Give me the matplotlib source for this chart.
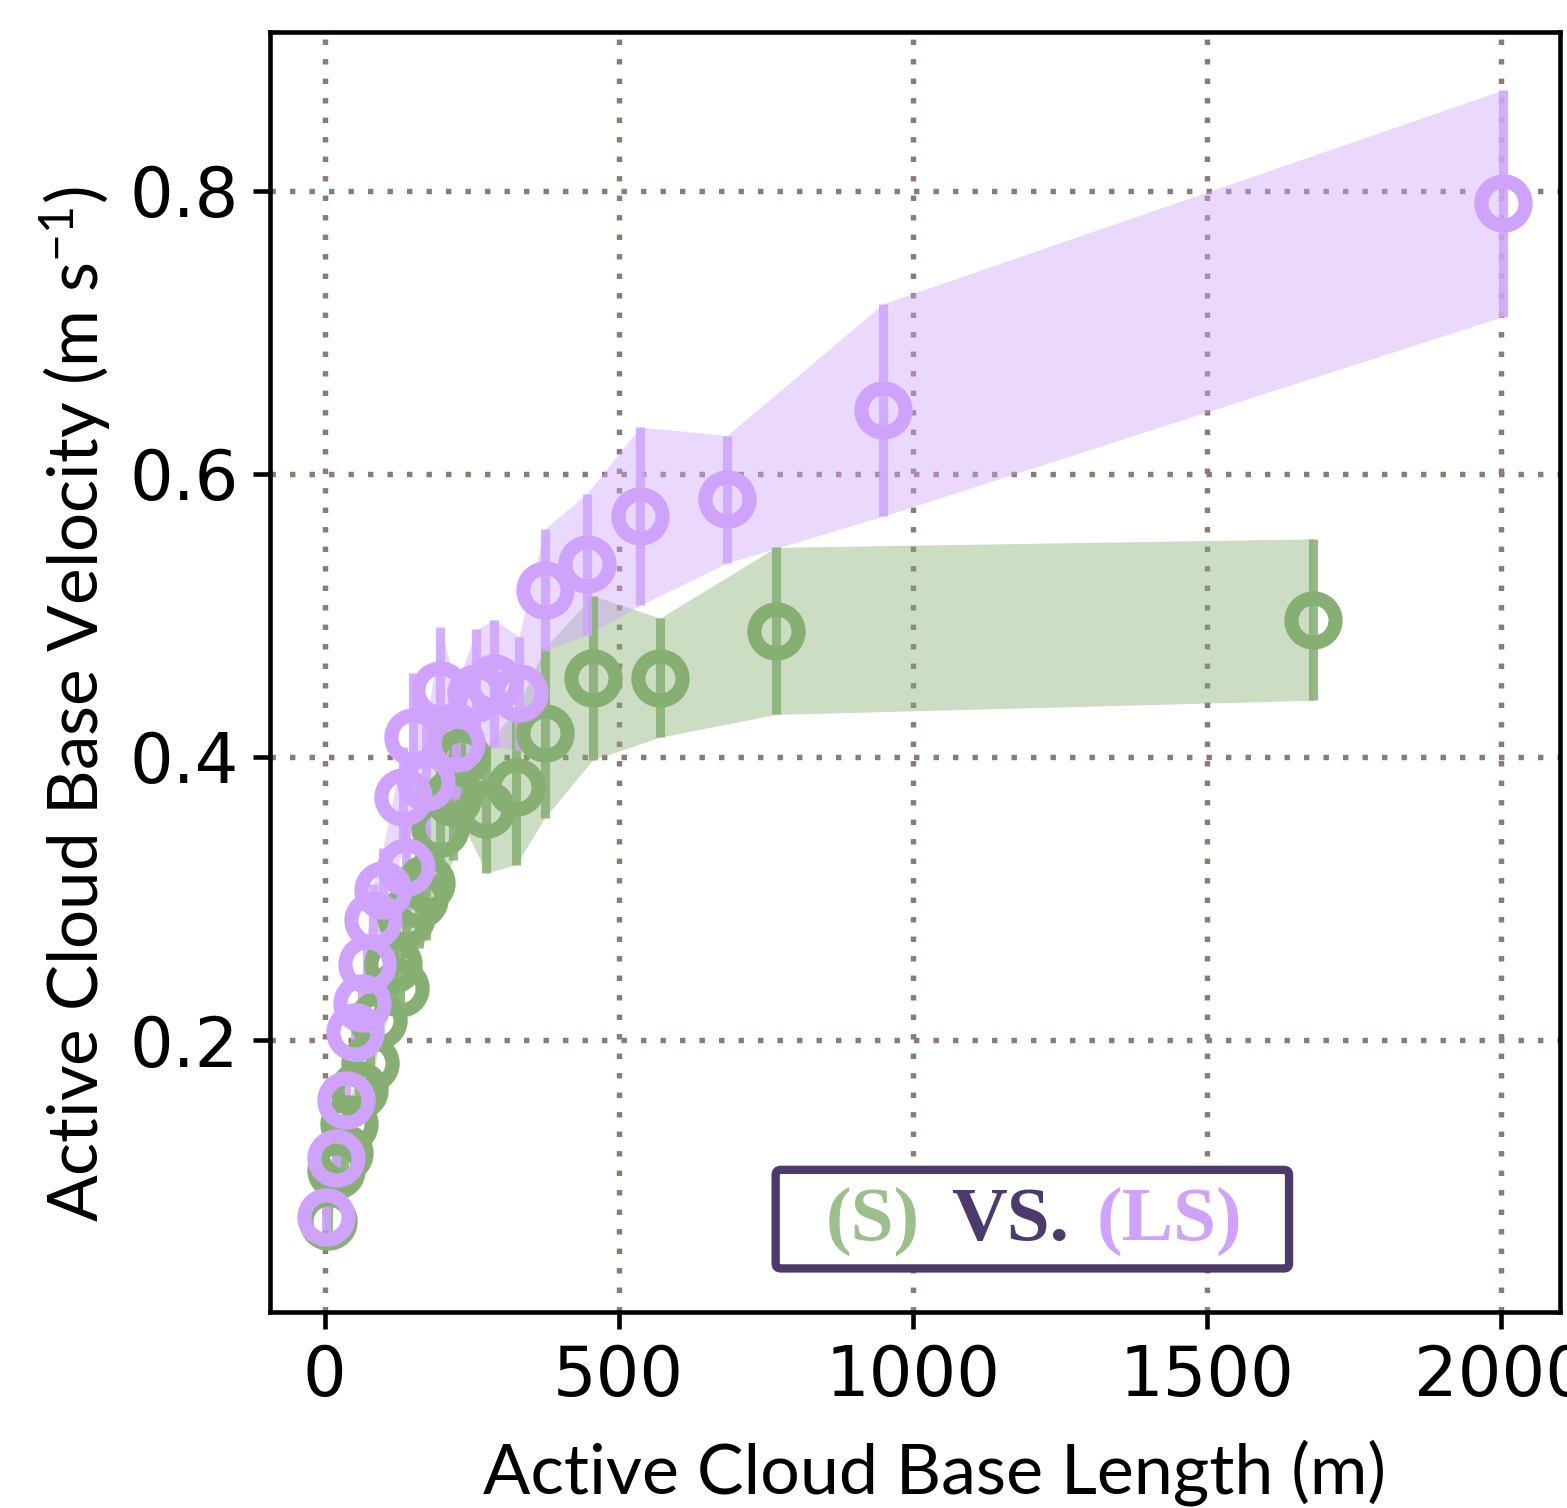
import matplotlib
matplotlib.use("Agg")
import matplotlib.pyplot as plt
from matplotlib.patches import FancyBboxPatch

# binned cloud-base statistics: (S) run in green, (LS) run in purple
s_length = [5, 20, 32, 42, 58, 77, 90, 116, 128, 139, 160, 173, 196, 218, 232,
            275, 326, 374, 456, 570, 767, 1680]
s_vel = [0.072, 0.108, 0.120, 0.141, 0.165, 0.184, 0.214, 0.254, 0.237, 0.287,
         0.300, 0.311, 0.350, 0.372, 0.400, 0.363, 0.379, 0.417, 0.456, 0.456,
         0.489, 0.497]
s_err = [0.012, 0.012, 0.013, 0.015, 0.017, 0.020, 0.022, 0.025, 0.028, 0.030,
         0.035, 0.040, 0.040, 0.045, 0.045, 0.045, 0.055, 0.060, 0.058, 0.042,
         0.059, 0.057]

ls_length = [3, 20, 37, 51, 63, 72, 82, 99, 133, 139, 150, 173, 196, 224, 258,
             288, 330, 374, 446, 536, 684, 949, 2003]
ls_vel = [0.075, 0.117, 0.158, 0.206, 0.226, 0.254, 0.285, 0.306, 0.372, 0.322,
          0.414, 0.382, 0.447, 0.410, 0.445, 0.452, 0.445, 0.518, 0.536, 0.570,
          0.582, 0.645, 0.791]
ls_err = [0.010, 0.012, 0.013, 0.015, 0.017, 0.020, 0.025, 0.030, 0.035, 0.030,
          0.045, 0.040, 0.045, 0.040, 0.045, 0.045, 0.040, 0.043, 0.050, 0.063,
          0.045, 0.075, 0.080]

GREEN = "#87AE73"
PURPLE = "#CFA3FC"
DARK = "#4B3A6B"

plt.rcParams["font.family"] = ["Lato", "DejaVu Sans"]
plt.rcParams["mathtext.fontset"] = "custom"
plt.rcParams["mathtext.rm"] = "Lato"
plt.rcParams["mathtext.default"] = "rm"

fig = plt.figure(figsize=(15.67 / 3, 15.08 / 3), dpi=300)
ax = fig.add_axes([0.1723, 0.130, 0.8232, 0.8488])


def draw(x, y, e, color):
    lo = [a - b for a, b in zip(y, e)]
    hi = [a + b for a, b in zip(y, e)]
    ax.fill_between(x, lo, hi, color=color, alpha=0.42, lw=0, zorder=2)
    ax.errorbar(x, y, yerr=e, fmt="none", ecolor=color, elinewidth=2.2,
                alpha=0.85, capsize=0, zorder=3)
    ax.plot(x, y, "o", ms=10.6, mfc="none", mec=color, mew=3.4, zorder=4)


draw(s_length, s_vel, s_err, GREEN)
draw(ls_length, ls_vel, ls_err, PURPLE)

ax.set_xlim(-93, 2100)
ax.set_ylim(0.008, 0.912)
ax.set_xticks([0, 500, 1000, 1500, 2000])
ax.set_yticks([0.2, 0.4, 0.6, 0.8])
ax.grid(True, ls=(0, (1, 2.6)), color="#8C7B75", lw=1.3, zorder=1)
ax.set_axisbelow(True)
for sp in ax.spines.values():
    sp.set_linewidth(1.1)
ax.tick_params(labelsize=16.5, length=4, width=1.1)
for lab in ax.get_xticklabels() + ax.get_yticklabels():
    lab.set_family("DejaVu Sans")

ax.set_xlabel("Active Cloud Base Length (m)", fontsize=16.8, labelpad=7)
ax.set_ylabel(r"Active Cloud Base Velocity (m s$^{-1}$)", fontsize=16.6,
              labelpad=4)
ax.xaxis.label.set_x(0.515)
ax.yaxis.label.set_y(0.475)

# run label box
box = FancyBboxPatch((0.392, 0.034), 0.398, 0.077, transform=ax.transAxes,
                     boxstyle="round,pad=0,rounding_size=0.004",
                     fc="white", ec=DARK, lw=2.0, zorder=6)
ax.add_patch(box)
tkw = dict(transform=ax.transAxes, fontsize=18.5, fontweight="bold",
           family="Liberation Serif", ha="center", va="center", zorder=7)
ax.text(0.467, 0.071, "(S)", color="#9DBF8B", **tkw)
ax.text(0.574, 0.071, "VS.", color=DARK, **tkw)
ax.text(0.697, 0.071, "(LS)", color=PURPLE, **tkw)

fig.savefig("out.png", dpi=300)
